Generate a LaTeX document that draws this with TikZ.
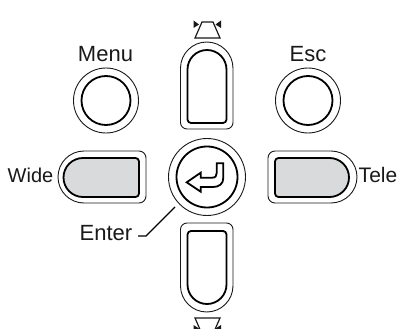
\documentclass[tikz,border=0pt]{standalone}
\usepackage{fontspec}
\setmainfont{Liberation Sans}
\definecolor{keygray}{HTML}{D9DADB}
\tikzset{
  outerline/.style={draw=black!90,line width=0.9pt},
  innerline/.style={draw=black,line width=1.8pt},
  graykey/.style={innerline,fill=keygray},
  lab/.style={inner sep=0pt,anchor=base,text=black!90},
  icon/.style={draw=black!90,line width=1.2pt,line join=miter},
  tip/.style={fill=black!90,draw=none}
}
\begin{document}
\begin{tikzpicture}[x=1pt,y=-1pt]
\useasboundingbox (0,0) rectangle (400,329);
\clip (0,0) rectangle (400,329);
% round keys
\draw[outerline] (106,100.5) circle (32.5);
\draw[innerline] (106,100.5) circle (24.5);
\draw[outerline] (308,100.5) circle (32.5);
\draw[innerline] (308,100.5) circle (24.5);
\draw[outerline] (207,177) circle (38.5);
\draw[innerline] (207,177) circle (30.5);
% up key
\draw[outerline] (187,129) arc (90:180:6.5) -- (180.5,68.25) arc (180:360:26.25) -- (233,122.5) arc (0:90:6.5) -- cycle;
\draw[innerline] (191,123) arc (90:180:3.5) -- (187.5,69.5) arc (180:360:19.5) -- (226.5,119.5) arc (0:90:3.5) -- cycle;
% down key
\draw[outerline] (187,223) arc (270:180:6.5) -- (180.5,285.75) arc (180:0:26.25) -- (233,229.5) arc (0:-90:6.5) -- cycle;
\draw[innerline] (191,231) arc (270:180:3.5) -- (187.5,284.5) arc (180:0:19.5) -- (226.5,234.5) arc (0:-90:3.5) -- cycle;
% wide key
\draw[outerline] (84,151) arc (270:90:26) -- (139,203) arc (90:0:7) -- (146,158) arc (0:-90:7) -- cycle;
\path[graykey] (83,158) arc (270:90:19.5) -- (135.5,197) arc (90:0:3.5) -- (139,161.5) arc (0:-90:3.5) -- cycle;
% tele key
\draw[outerline] (331,151) arc (-90:90:26) -- (275,203) arc (90:180:7) -- (268,158) arc (180:270:7) -- cycle;
\path[graykey] (329.5,158) arc (-90:90:19.5) -- (278.5,197) arc (90:180:3.5) -- (275,161.5) arc (180:270:3.5) -- cycle;
% enter arrow
\draw[draw=black,line width=1.8pt,line join=miter]
  (186.7,182.3) -- (200.7,172.7) -- (200.7,177.7) -- (212,177.7)
  .. controls (215.5,177.7) and (216.7,176) .. (216.7,173) -- (216.7,163.3) -- (223.3,163.3) -- (223.3,178)
  .. controls (223.3,184) and (219,187) .. (213,187) -- (200.7,187) -- (200.7,191.7) -- cycle;
% top icon
\draw[icon] (202,22) -- (213,22) -- (220,38) -- (195,38) -- cycle;
\fill[tip] (193.5,20.5) -- (199,24.5) -- (193.5,28) -- cycle;
\fill[tip] (221,20.5) -- (215.5,24.5) -- (221,28) -- cycle;
% bottom icon
\draw[icon] (195,318) -- (220,318) -- (213,334) -- (202,334) -- cycle;
\fill[tip] (193.5,325) -- (199,328.5) -- (193.5,332) -- cycle;
\fill[tip] (221,325) -- (215.5,328.5) -- (221,332) -- cycle;
% labels
\node[lab,font=\fontsize{22}{22}\selectfont] (menu) at (105.5,62) {Menu};
\node[lab,font=\fontsize{22}{22}\selectfont] (esc) at (308,62) {Esc};
\node[lab,font=\fontsize{20}{20}\selectfont] (wide) at (30.5,183) {Wide};
\node[lab,font=\fontsize{21}{21}\selectfont] (tele) at (378,183) {Tele};
\node[lab,font=\fontsize{22}{22}\selectfont] (enter) at (106,241) {Enter};
\coordinate (enterkink) at (146,236);
\coordinate (enterend) at (175,207);
\draw[draw=black,line width=1.1pt] (138,236) -- (enterkink) -- (enterend);
\end{tikzpicture}
\end{document}
